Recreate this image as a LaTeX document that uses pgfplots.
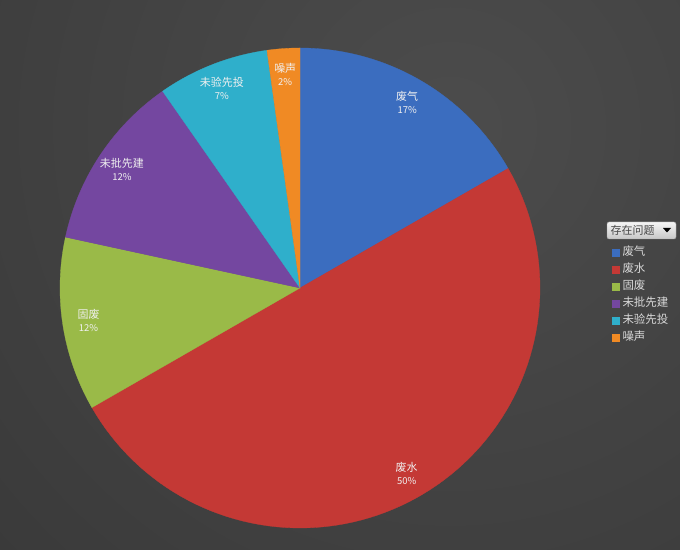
\documentclass[border=0pt]{standalone}
\usepackage{fontspec}
\setmainfont{Noto Sans CJK SC}
\usepackage{pgfplots}
\usepackage{pgfplotstable}
\pgfplotsset{compat=1.18}
\definecolor{c0}{HTML}{3B6DBF}
\definecolor{c1}{HTML}{C43935}
\definecolor{c2}{HTML}{9ABA48}
\definecolor{c3}{HTML}{7447A0}
\definecolor{c4}{HTML}{2FAFCB}
\definecolor{c5}{HTML}{F08A24}
\definecolor{bgd}{HTML}{363636}
\definecolor{bgl}{HTML}{4C4C4C}
\definecolor{labtext}{HTML}{F0F0F0}
\definecolor{legtext}{HTML}{D9D9D9}
\newcommand\namefont{\fontsize{11}{13}\selectfont}
\newcommand\legfont{\fontsize{11.5}{13}\selectfont}
\newcommand\pctfont{\fontsize{9.5}{11}\selectfont}

\pgfplotstableread[col sep=comma]{
name,value,pct
废气,16.7,17
废水,50.0,50
固废,11.7,12
未批先建,11.9,12
未验先投,7.5,7
噪声,2.2,2
}\piedata

% cumulative angles (clockwise from the top)
\xdef\cum{90}
\foreach \i in {0,...,5}{%
  \pgfplotstablegetelem{\i}{pct}\of\piedata
  \expandafter\xdef\csname pv\i\endcsname{\pgfplotsretval}%
  \pgfplotstablegetelem{\i}{value}\of\piedata
  \pgfmathsetmacro\e{\cum-3.6*\pgfplotsretval}%
  \pgfmathsetmacro\m{(\cum+\e)/2}%
  \pgfmathsetmacro\lx{214*cos(\m)}%
  \pgfmathsetmacro\ly{214*sin(\m)}%
  \expandafter\xdef\csname ps\i\endcsname{\cum}%
  \expandafter\xdef\csname pe\i\endcsname{\e}%
  \expandafter\xdef\csname lx\i\endcsname{\lx}%
  \expandafter\xdef\csname ly\i\endcsname{\ly}%
  \pgfplotstablegetelem{\i}{name}\of\piedata
  \expandafter\xdef\csname pn\i\endcsname{\pgfplotsretval}%
  \xdef\cum{\e}%
}

\begin{document}
\begin{tikzpicture}
\begin{axis}[
  x=1bp, y=1bp,
  xmin=-300, xmax=380, ymin=-262, ymax=288,
  hide axis,
  clip=true,
  legend image code/.code={\fill[#1] (0bp,-3.5bp) rectangle (7bp,3.5bp);},
  legend cell align=left,
  legend style={at={(axis cs:312,43)}, anchor=north west, draw=none, fill=none,
    text=legtext, font=\legfont, row sep=3bp, column sep=2bp, inner sep=0pt,
    nodes={inner sep=1bp, text height=9bp, text depth=3bp}},
]
\fill[bgd] (rel axis cs:0,0) rectangle (rel axis cs:1,1);
\shade[inner color=bgl, outer color=bgd] (axis cs:150,160) circle[radius=760bp];

\pgfplotsinvokeforeach{0,...,5}{
  \addplot[fill=c#1, draw=c#1, line width=0.3pt,
    domain=\csname pe#1\endcsname:\csname ps#1\endcsname, samples=90, variable=\t]
    ({240*cos(t)},{240*sin(t)}) -- (axis cs:0,0) -- cycle;
  \addlegendentryexpanded{\csname pn#1\endcsname}
}

\pgfplotsinvokeforeach{0,...,5}{
  \node[text=labtext, align=center, inner sep=0pt, font=\namefont]
    at (axis cs:\csname lx#1\endcsname,\csname ly#1\endcsname)
    {\csname pn#1\endcsname\\[0bp]{\pctfont\csname pv#1\endcsname\%}};
}

% drop-down field button
\shade[top color=white!96!black, bottom color=white!78!black, draw=white!62!black,
  rounded corners=2bp] (axis cs:307,49) rectangle (axis cs:376,66);
\node[anchor=west, inner sep=0pt, text=black!72, font=\namefont] at (axis cs:310.5,57.5) {存在问题};
\fill[black] (axis cs:363,60) -- (axis cs:371,60) -- (axis cs:367,55.5) -- cycle;
\end{axis}
\pgfresetboundingbox
\path[use as bounding box] (current axis.south west) rectangle (current axis.north east);
\end{tikzpicture}
\end{document}
